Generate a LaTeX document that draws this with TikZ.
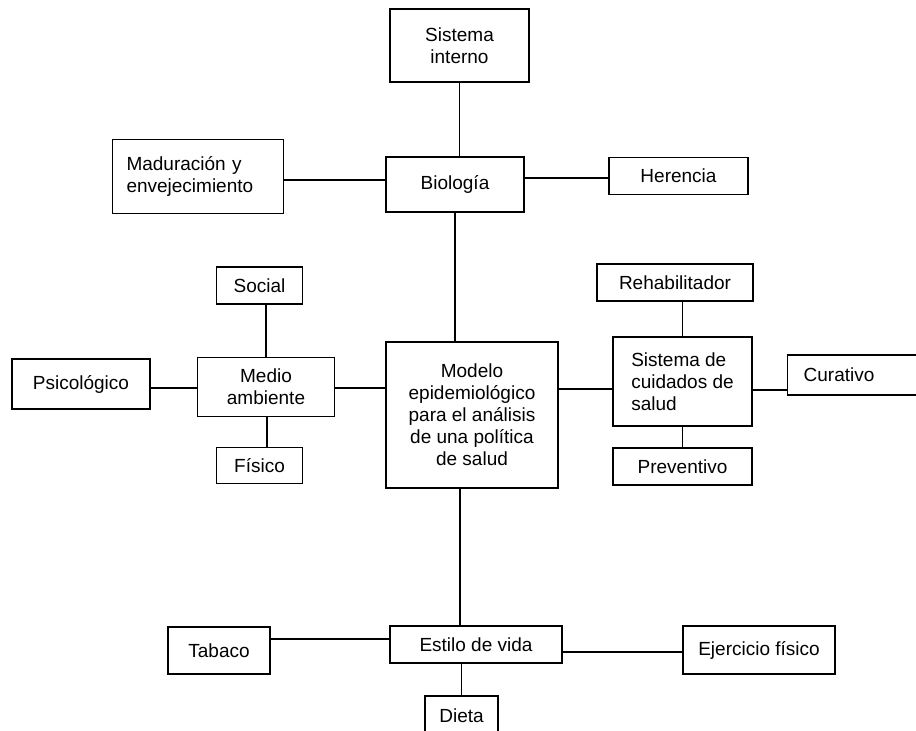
\documentclass[tikz,border=0pt]{standalone}
\usepackage{fontspec}
\setmainfont{Liberation Sans}
\begin{document}
\begin{tikzpicture}[x=1pt,y=-1pt,
  box/.style={draw, line width=1.4pt, rectangle, inner sep=0pt, align=center,
    font=\fontsize{19}{22}\selectfont},
  link/.style={line width=1.4pt}]
\clip (0,0) rectangle (916,731);
\useasboundingbox (0,0) rectangle (916,731);
% nodes
\node[box, minimum width=139pt, minimum height=73pt] (sisint) at (459.5,45.5) {Sistema\\interno};
\node[box, minimum width=138pt, minimum height=55pt] (bio) at (455,184.5) {Biología};
\node[box, minimum width=171pt, minimum height=74pt, align=left, text width=143pt] (madur) at (198,176.5) {Maduración y\\envejecimiento};
\node[box, minimum width=139pt, minimum height=37pt] (heren) at (678.5,176) {Herencia};
\node[box, minimum width=86pt, minimum height=37pt] (social) at (259.5,285.5) {Social};
\node[box, minimum width=138pt, minimum height=50pt] (psico) at (81,384) {Psicológico};
\node[box, minimum width=137pt, minimum height=59pt] (medio) at (266,387) {Medio\\ambiente};
\node[box, minimum width=86pt, minimum height=36pt] (fisico) at (259.5,465.5) {Físico};
\node[box, minimum width=172pt, minimum height=146pt] (modelo) at (472,415) {Modelo\\epidemiológico\\para el análisis\\de una política\\de salud};
\node[box, minimum width=156pt, minimum height=37pt] (rehab) at (675,282.5) {Rehabilitador};
\node[box, minimum width=139pt, minimum height=89pt, align=left] (sistcui) at (682.5,381.5) {Sistema de\\cuidados de\\salud};
\node[box, minimum width=135pt, minimum height=40pt, anchor=west, align=left, text width=103pt, inner xsep=16pt] (curat) at (787,375) {Curativo};
\node[box, minimum width=139pt, minimum height=37pt] (prevent) at (682.5,466.5) {Preventivo};
\node[box, minimum width=102pt, minimum height=47pt] (tabaco) at (219,650.5) {Tabaco};
\node[box, minimum width=172pt, minimum height=37pt] (estilo) at (476,644.5) {Estilo de vida};
\node[box, minimum width=152pt, minimum height=48pt] (ejerc) at (759,650) {Ejercicio físico};
\node[box, minimum width=73pt, minimum height=40pt] (dieta) at (461.5,716) {Dieta};
% connectors
\draw[link] (sisint.south) -- (sisint.south |- bio.north);
\draw[link] ([yshift=-3.5pt]madur.east) -- ([yshift=-3.5pt]madur.east -| bio.west);
\draw[link] ([yshift=-2pt]heren.west) -- ([yshift=-2pt]heren.west -| bio.east);
\draw[link] (bio.south) -- (bio.south |- modelo.north);
\draw[link] (medio.north) -- (medio.north |- social.south);
\draw[link] ([xshift=1pt]medio.south) -- ([xshift=1pt]medio.south |- fisico.north);
\draw[link] ([yshift=-1pt]medio.west) -- ([yshift=-1pt]medio.west -| psico.east);
\draw[link] ([yshift=-1pt]medio.east) -- ([yshift=-1pt]medio.east -| modelo.west);
\draw[link] ([yshift=-7.5pt]sistcui.west) -- ([yshift=-7.5pt]sistcui.west -| modelo.east);
\draw[link] ([yshift=-8.5pt]sistcui.east) -- ([yshift=-8.5pt]sistcui.east -| curat.west);
\draw[link] (sistcui.north) -- (sistcui.north |- rehab.south);
\draw[link] (sistcui.south) -- (sistcui.south |- prevent.north);
\draw[link] ([xshift=-12pt]modelo.south) -- ([xshift=-12pt]modelo.south |- estilo.north);
\draw[link] ([yshift=11.5pt]tabaco.east) -- ([yshift=11.5pt]tabaco.east -| estilo.west);
\draw[link] ([yshift=-2pt]ejerc.west) -- ([yshift=-2pt]ejerc.west -| estilo.east);
\draw[link] (dieta.north) -- (dieta.north |- estilo.south);
\end{tikzpicture}
\end{document}
